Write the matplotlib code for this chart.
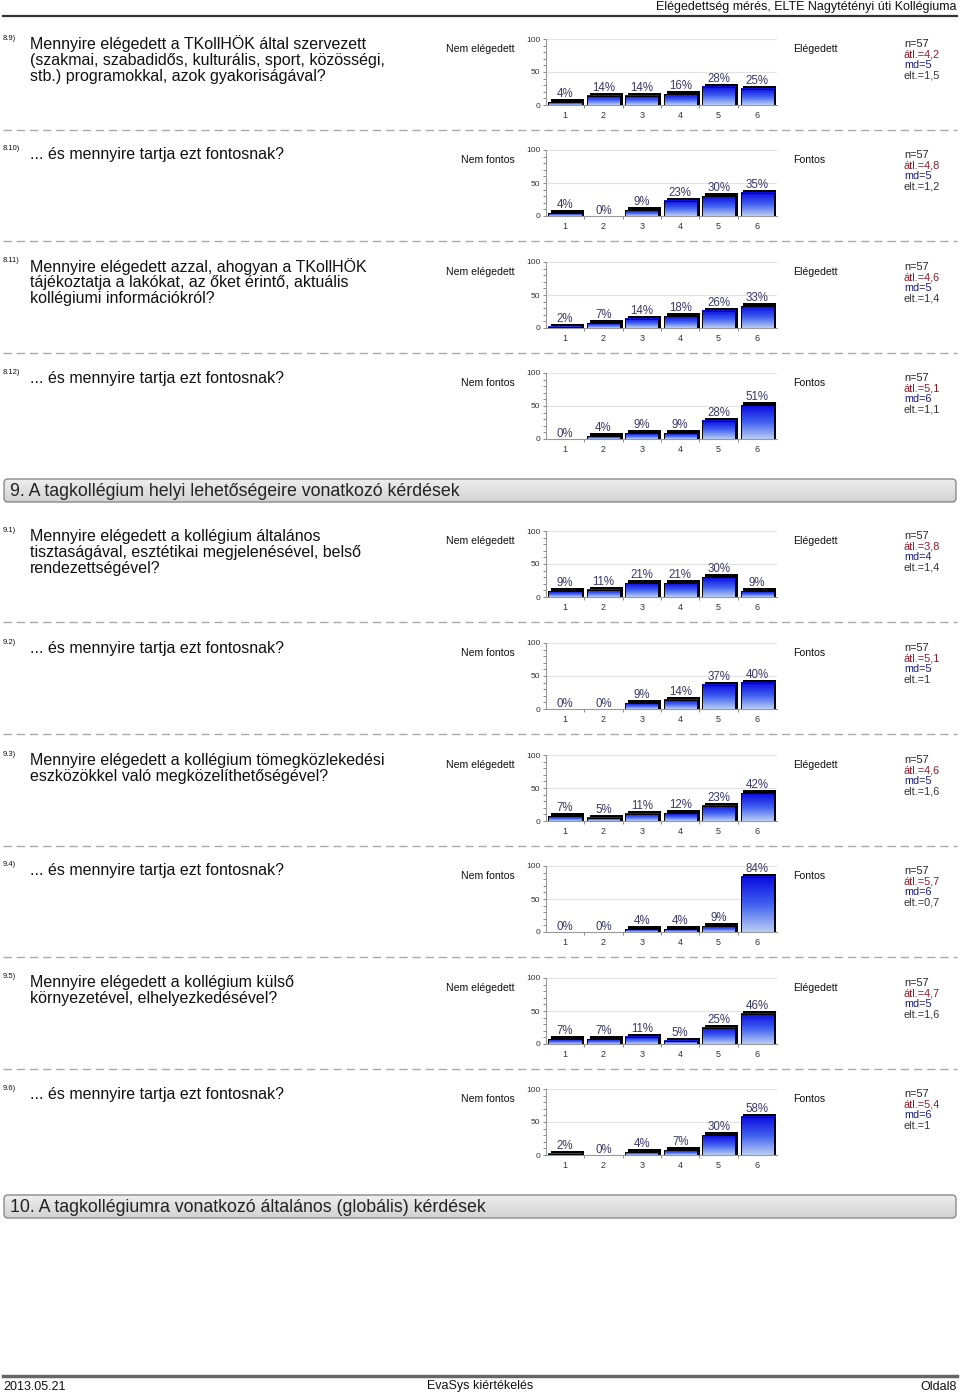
import matplotlib
matplotlib.use("Agg")
import matplotlib.pyplot as plt
import numpy as np
from matplotlib import font_manager
from matplotlib.patches import Rectangle, FancyBboxPatch
from matplotlib.colors import LinearSegmentedColormap

# ---------------- data ----------------
qids = ["8.9)", "8.10)", "8.11)", "8.12)", "9.1)", "9.2)", "9.3)", "9.4)", "9.5)", "9.6)"]
questions = [
    ["Mennyire elégedett a TKollHÖK által szervezett",
     "(szakmai, szabadidős, kulturális, sport, közösségi,",
     "stb.) programokkal, azok gyakoriságával?"],
    ["... és mennyire tartja ezt fontosnak?"],
    ["Mennyire elégedett azzal, ahogyan a TKollHÖK",
     "tájékoztatja a lakókat, az őket érintő, aktuális",
     "kollégiumi információkról?"],
    ["... és mennyire tartja ezt fontosnak?"],
    ["Mennyire elégedett a kollégium általános",
     "tisztaságával, esztétikai megjelenésével, belső",
     "rendezettségével?"],
    ["... és mennyire tartja ezt fontosnak?"],
    ["Mennyire elégedett a kollégium tömegközlekedési",
     "eszközökkel való megközelíthetőségével?"],
    ["... és mennyire tartja ezt fontosnak?"],
    ["Mennyire elégedett a kollégium külső",
     "környezetével, elhelyezkedésével?"],
    ["... és mennyire tartja ezt fontosnak?"],
]
left_labels = ["Nem elégedett", "Nem fontos"] * 5
right_labels = ["Elégedett", "Fontos"] * 5
categories = [1, 2, 3, 4, 5, 6]
values = [
    [4, 14, 14, 16, 28, 25],
    [4, 0, 9, 23, 30, 35],
    [2, 7, 14, 18, 26, 33],
    [0, 4, 9, 9, 28, 51],
    [9, 11, 21, 21, 30, 9],
    [0, 0, 9, 14, 37, 40],
    [7, 5, 11, 12, 23, 42],
    [0, 0, 4, 4, 9, 84],
    [7, 7, 11, 5, 25, 46],
    [2, 0, 4, 7, 30, 58],
]
n_vals = [57] * 10
atl_vals = ["4,2", "4,8", "4,6", "5,1", "3,8", "5,1", "4,6", "5,7", "4,7", "5,4"]
md_vals = ["5", "5", "5", "6", "4", "5", "5", "6", "5", "6"]
elt_vals = ["1,5", "1,2", "1,4", "1,1", "1,4", "1", "1,6", "0,7", "1,6", "1"]
yticks = [0, 50, 100]

header_text = "Elégedettség mérés, ELTE Nagytétényi úti Kollégiuma"
section_titles = ["9. A tagkollégium helyi lehetőségeire vonatkozó kérdések",
                  "10. A tagkollégiumra vonatkozó általános (globális) kérdések"]
footer_left, footer_mid, footer_right = "2013.05.21", "EvaSys kiértékelés", "Oldal8"

# ---------------- layout ----------------
W, H = 960, 1395
base_y = [44, 155, 267, 378, 536, 648, 760, 871, 983, 1094]
section_y = [479, 1195]
sep_after = [0, 1, 2, 4, 5, 6, 7, 8]

names = {f.name for f in font_manager.fontManager.ttflist}
SANS = "Liberation Sans" if "Liberation Sans" in names else "DejaVu Sans"
NARROW = "Liberation Sans Narrow" if "Liberation Sans Narrow" in names else SANS
plt.rcParams["font.family"] = [SANS, "DejaVu Sans"]

fig = plt.figure(figsize=(W / 100, H / 100), dpi=100)
bg = fig.add_axes([0, 0, 1, 1])
bg.set_xlim(0, W)
bg.set_ylim(H, 0)
bg.axis("off")

# header
bg.text(957, 7, header_text, ha="right", va="center", fontsize=9.0,
        family=NARROW, color="#111111")
bg.plot([3, 957], [15.5, 15.5], color="#333333", lw=1.6)

# footer
bg.plot([3, 957], [1376, 1376], color="#666666", lw=2.5)
bg.text(3, 1386.5, footer_left, ha="left", va="center", fontsize=9.0, family=NARROW, color="#111111")
bg.text(480, 1386.5, footer_mid, ha="center", va="center", fontsize=9.0, family=NARROW, color="#111111")
bg.text(957, 1386.5, footer_right, ha="right", va="center", fontsize=9.0, family=NARROW, color="#111111")

# section bars
grad = np.linspace(0, 1, 64).reshape(-1, 1)
sec_cmap = LinearSegmentedColormap.from_list("sec", ["#eeeeee", "#d2d2d2"])
for sy, title in zip(section_y, section_titles):
    patch = FancyBboxPatch((4, sy), 952, 23, boxstyle="round,pad=0,rounding_size=4",
                           facecolor="none", edgecolor="#8a8a8a", lw=1.0, zorder=3)
    bg.add_patch(patch)
    im = bg.imshow(grad, extent=[4, 956, sy + 23, sy], cmap=sec_cmap, aspect="auto", zorder=2)
    im.set_clip_path(patch)
    bg.text(10, sy + 12, title, ha="left", va="center", fontsize=12.8, family=NARROW,
            color="#222222", zorder=4)
bg.set_xlim(0, W)
bg.set_ylim(H, 0)

bar_cmap = LinearSegmentedColormap.from_list("bar", ["#0a0ae0", "#4060f0", "#b8ccf2"])

for i in range(len(qids)):
    y0 = base_y[i]
    # question number and text
    bg.text(3, y0 - 6, qids[i], ha="left", va="center", fontsize=5.5, color="#111111")
    for k, line in enumerate(questions[i]):
        bg.text(30, y0 + k * 16, line, ha="left", va="center", fontsize=11.5, color="#111111")
    bg.text(515, y0 + 5, left_labels[i], ha="right", va="center", fontsize=7.6, color="#111111")
    bg.text(793, y0 + 5, right_labels[i], ha="left", va="center", fontsize=7.6, color="#111111")
    stats = [(f"n={n_vals[i]}", "#222222"), (f"átl.={atl_vals[i]}", "#8b1a2a"),
             (f"md={md_vals[i]}", "#1a1a7a"), (f"elt.={elt_vals[i]}", "#333333")]
    for k, (s, c) in enumerate(stats):
        bg.text(904, y0 + k * 10.6, s, ha="left", va="center", fontsize=7.8, color=c)
    if i in sep_after:
        bg.plot([3, 957], [y0 + 86, y0 + 86], color="#aaaaaa", lw=1.0,
                dashes=(6, 3.5))

    # chart axes
    top = y0 - 5
    ax = fig.add_axes([546 / W, 1 - (top + 66) / H, 231 / W, 66 / H])
    ax.set_facecolor("none")
    xlim = (0.505, 6.52)
    ax.set_xlim(*xlim)
    ax.set_ylim(0, 100)
    for s in ["top", "right"]:
        ax.spines[s].set_visible(False)
    ax.spines["left"].set_color("#999999")
    ax.spines["bottom"].set_color("#999999")
    ax.spines["left"].set_linewidth(0.8)
    ax.spines["bottom"].set_linewidth(0.8)
    for gy in [50, 100]:
        ax.axhline(gy, color="#e2e2e2", lw=0.8, zorder=0)
    ax.set_yticks(yticks)
    ax.set_yticklabels([str(t) for t in yticks], fontsize=6, color="#333333")
    ax.set_yticks(np.arange(0, 101, 10), minor=True)
    ax.tick_params(axis="y", which="both", length=2, width=0.6, color="#777777", pad=2)
    ax.set_xticks(categories)
    ax.set_xticklabels([str(c) for c in categories], fontsize=6.5, color="#333333")
    ax.set_xticks(np.arange(1.5, 6.5, 1.0), minor=True)
    ax.tick_params(axis="x", which="major", length=0, pad=4)
    ax.tick_params(axis="x", which="minor", length=2, width=0.6, color="#777777")

    w = 0.86
    dx, dy = 0.075, 4.5
    for c, v in zip(categories, values[i]):
        if v > 0:
            ax.add_patch(Rectangle((c - w / 2 + dx, 0), w, v + dy, facecolor="black",
                                   edgecolor="none", zorder=2))
            ax.imshow(grad, extent=[c - w / 2, c + w / 2, 0, v], cmap=bar_cmap,
                      aspect="auto", origin="upper", zorder=3)
            ax.add_patch(Rectangle((c - w / 2, 0), w, v, facecolor="none",
                                   edgecolor="black", lw=0.7, zorder=4))
            ty = v + dy - 1.5
        else:
            ty = -1.5
        ax.text(c, ty, f"{v}%", ha="center", va="bottom", fontsize=8.3,
                color="#3a3a66", zorder=5)
    ax.set_xlim(*xlim)
    ax.set_ylim(0, 100)

fig.savefig("out.png", dpi=100)
